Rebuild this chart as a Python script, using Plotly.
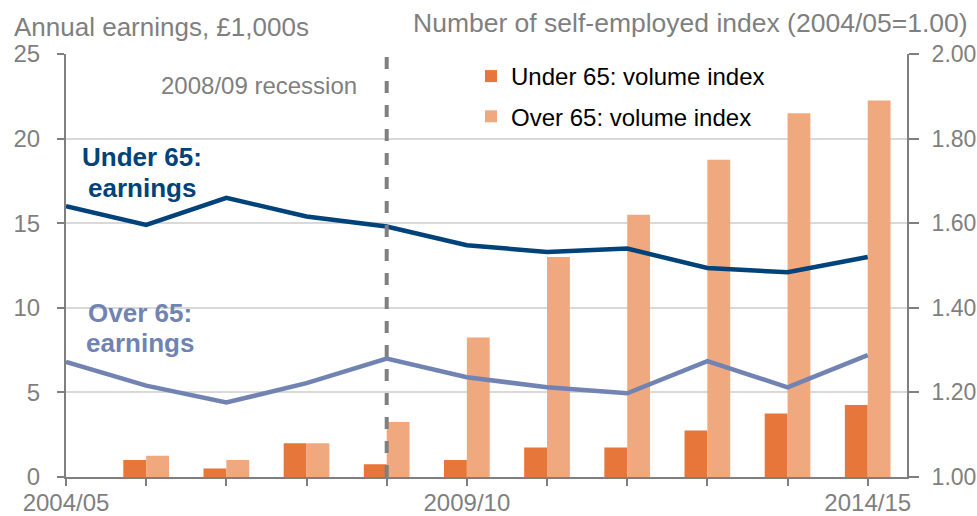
import plotly.graph_objects as go

years = ["2004/05", "2005/06", "2006/07", "2007/08", "2008/09", "2009/10",
         "2010/11", "2011/12", "2012/13", "2013/14", "2014/15"]
tick_labels = ["2004/05", "", "", "", "", "2009/10", "", "", "", "", "2014/15"]

under65_earnings = [16.0, 14.9, 16.5, 15.4, 14.8, 13.7, 13.3, 13.5, 12.35, 12.1, 13.0]
over65_earnings = [6.8, 5.4, 4.4, 5.55, 7.0, 5.9, 5.3, 4.95, 6.85, 5.3, 7.2]
under65_index = [1.00, 1.04, 1.02, 1.08, 1.03, 1.04, 1.07, 1.07, 1.11, 1.15, 1.17]
over65_index = [1.00, 1.05, 1.04, 1.08, 1.13, 1.33, 1.52, 1.62, 1.75, 1.86, 1.89]

GRAY = "#7f7f7f"
DARK = "#00427A"
LIGHT = "#7083B2"
FONT = "Liberation Sans, Arial, sans-serif"

fig = go.Figure()
fig.add_trace(go.Bar(x=years, y=under65_index, name="Under 65: volume index",
                     marker=dict(color="#E6763A", line=dict(width=0)),
                     yaxis="y", legendgroup="a"))
fig.add_trace(go.Bar(x=years, y=over65_index, name="Over 65: volume index",
                     marker=dict(color="#F0A87F", line=dict(width=0)),
                     yaxis="y", legendgroup="b"))
fig.add_trace(go.Scatter(x=years, y=under65_earnings, mode="lines", name="Under 65: earnings",
                         line=dict(color=DARK, width=4.5), yaxis="y2", showlegend=False))
fig.add_trace(go.Scatter(x=years, y=over65_earnings, mode="lines", name="Over 65: earnings",
                         line=dict(color=LIGHT, width=4.5), yaxis="y2", showlegend=False))

fig.add_shape(type="line", xref="x", yref="paper", x0="2008/09", x1="2008/09", y0=0, y1=1,
              line=dict(color=GRAY, width=4, dash="dash"), layer="above")

fig.update_layout(
    width=977, height=516,
    margin=dict(l=66, r=70, t=54, b=39, autoexpand=False),
    paper_bgcolor="white", plot_bgcolor="white",
    font=dict(family=FONT, size=24, color=GRAY),
    barmode="group", bargap=0.43, bargroupgap=0,
    showlegend=True,
    legend=dict(x=0.4816, y=1.0, xanchor="left", yanchor="top", bgcolor="rgba(0,0,0,0)",
                font=dict(size=24, color="black"), tracegroupgap=6, itemclick=False),
    xaxis=dict(type="category", range=[0, 10.49], tickmode="array", tickvals=years,
               ticktext=tick_labels, ticks="outside", ticklen=7, tickwidth=2, tickcolor=GRAY,
               showline=True, linecolor=GRAY, linewidth=2, showgrid=False, automargin=False,
               tickfont=dict(size=24, color=GRAY), ticklabelstandoff=-4),
    yaxis=dict(range=[1, 2], side="right", tickvals=[1.0, 1.2, 1.4, 1.6, 1.8, 2.0],
               ticktext=["1.00", "1.20", "1.40", "1.60", "1.80", "2.00"],
               ticks="outside", ticklen=10, tickwidth=2, tickcolor=GRAY,
               showline=True, linecolor=GRAY, linewidth=2, automargin=False,
               showgrid=True, gridcolor="#d9d9d9", gridwidth=2, zeroline=False,
               tickfont=dict(size=23, color=GRAY), ticklabelstandoff=8),
    yaxis2=dict(range=[0, 25], side="left", overlaying="y", tickvals=[0, 5, 10, 15, 20, 25],
                ticks="outside", ticklen=7, tickwidth=2, tickcolor=GRAY, automargin=False,
                showline=True, linecolor=GRAY, linewidth=2, showgrid=False, zeroline=False,
                tickfont=dict(size=24, color=GRAY), ticklabelstandoff=12),
)

fig.add_annotation(text="Annual earnings, £1,000s", xref="paper", yref="paper",
                   x=-66/841, y=1, xanchor="left", yanchor="middle", yshift=27, xshift=12,
                   showarrow=False, font=dict(size=26, color=GRAY))
fig.add_annotation(text="Number of self-employed index (2004/05=1.00)", xref="paper", yref="paper",
                   x=1 + 70/841, y=1, xanchor="right", yanchor="middle", yshift=31, xshift=-7,
                   showarrow=False, font=dict(size=26.5, color=GRAY))
fig.add_annotation(text="2008/09 recession", xref="x", yref="paper", x="2008/09", y=1,
                   xanchor="right", yanchor="middle", xshift=-28, yshift=-31,
                   showarrow=False, font=dict(size=24, color=GRAY))

labels = [("<b>Under 65:</b>", 142, 18.91, DARK), ("<b>earnings</b>", 142, 17.11, DARK),
          ("<b>Over 65:</b>", 140, 9.72, LIGHT), ("<b>earnings</b>", 139.5, 7.94, LIGHT)]
for txt, px, yv, col in labels:
    fig.add_annotation(text=txt, xref="paper", yref="y2", x=(px - 66) / 841, y=yv,
                       xanchor="center", yanchor="middle", showarrow=False,
                       font=dict(size=26, color=col))

fig.write_html(
    "out.html",
    config={"displayModeBar": False},
    post_script="document.body.style.margin='0';document.body.style.overflow='hidden';",
)
